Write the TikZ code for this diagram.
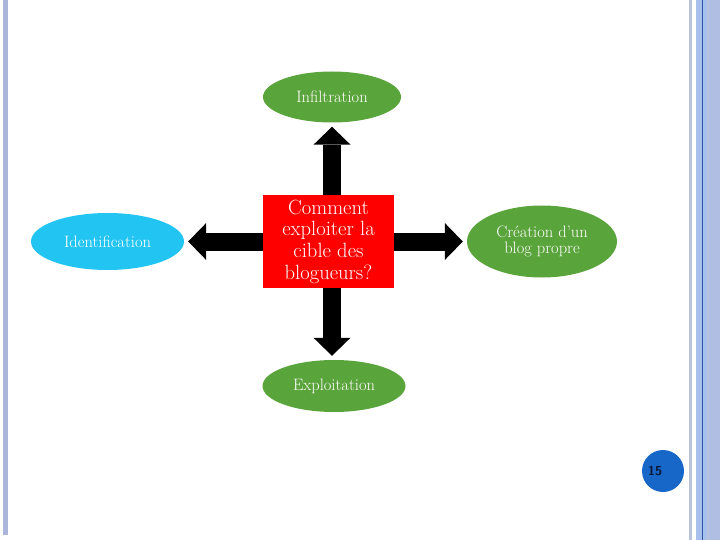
\documentclass[tikz,border=0pt]{standalone}
\usepackage{fontspec}
\usetikzlibrary{shapes.geometric,arrows.meta}
\definecolor{leafgreen}{HTML}{5AA43C}
\definecolor{skyblue}{HTML}{22C4F2}
\definecolor{boxred}{HTML}{FF0000}
\definecolor{pagebar}{HTML}{ABB6DA}
\definecolor{barlight}{HTML}{A8C0EE}
\definecolor{bargrey}{HTML}{B8C3DC}
\definecolor{bardark}{HTML}{2F56A6}
\definecolor{barside}{HTML}{AFBEE2}
\definecolor{badgeblue}{HTML}{1767C9}
\definecolor{badgetext}{HTML}{0B1838}

\begin{document}
\begin{tikzpicture}[x=1pt,y=-1pt,
    topic node/.style={ellipse,fill=leafgreen,text=white,inner sep=0pt,align=center,font=\fontsize{16.5}{16}\selectfont},
    question node/.style={rectangle,fill=boxred,text=white,inner sep=0pt,align=center,minimum width=131pt,minimum height=93pt,font=\fontsize{20.6}{21.7}\selectfont},
    block arrow/.style={line width=18pt,-{Triangle[width=37pt,length=18pt,line width=0pt]},shorten >=4pt}]

    \useasboundingbox (0,0) rectangle (720,540);

    % page frame
    \fill[pagebar] (3,0) rectangle (8,535);
    \fill[bargrey] (689,0) rectangle (691.5,540);
    \fill[barlight] (696,0) rectangle (702,540);
    \fill[bardark] (702,0) rectangle (703.2,540);
    \fill[barlight] (703.2,0) rectangle (707,540);
    \fill[bargrey] (707,0) rectangle (708.5,540);
    \fill[barside] (708.5,0) rectangle (720,540);

    \node[question node] (box) at (328.5,241.5) {Comment\\exploiter la\\cible des\\blogueurs?};

    \node[topic node, minimum width=138pt, minimum height=51pt] (infil) at (332,97) {Infiltration};
    \node[topic node, minimum width=143pt, minimum height=52pt] (expl) at (334,386) {Exploitation};
    \node[topic node, fill=skyblue, minimum width=153pt, minimum height=57pt] (ident) at (107.5,241.5) {Identification};
    \node[topic node, minimum width=150pt, minimum height=72pt] (blog) at (542,241.5) {Cr\'eation d'un\\blog propre};

    \draw[block arrow] (box.north -| infil.south) -- (infil.south);
    \draw[block arrow] (box.south -| infil.south) -- (infil.south |- expl.north);
    \draw[block arrow] (box.west) -- (box.west -| ident.east);
    \draw[block arrow] (box.east) -- (box.east -| blog.west);

    \node[circle, fill=badgeblue, minimum size=42pt, inner sep=0pt,
          label={[xshift=-8pt, text=badgetext, font=\sffamily\bfseries\fontsize{13}{15}\selectfont]center:15}] (page) at (663,471) {};
\end{tikzpicture}
\end{document}
